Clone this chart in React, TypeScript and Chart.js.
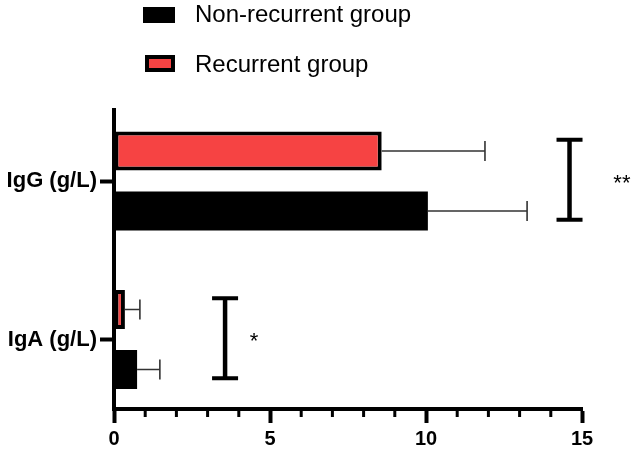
import React, { useEffect, useRef } from 'react';
import { Chart, registerables } from 'chart.js';

Chart.register(...registerables);

// ---- data ----
const categories = ['IgG (g/L)', 'IgA (g/L)'];
const seriesNames = ['Non-recurrent group', 'Recurrent group'];
const nonRecurrentMean = [10.06, 0.74];
const nonRecurrentSD = [3.18, 0.73];
const recurrentMean = [8.58, 0.35];
const recurrentSD = [3.31, 0.48];
const xTickValues = [0, 5, 10, 15];
const significanceLabels = ['**', '*'];
const bracketX = [14.6, 3.56];
const labelX = [16.28, 4.49];

const RED = '#F64343';
const FONT = "Arial, 'Liberation Sans', sans-serif";

const overlay = {
  id: 'overlay',
  afterDatasetsDraw(chart: any) {
    const ctx = chart.ctx;
    const xs = chart.scales.x;
    chart.data.datasets.forEach((ds: any, di: number) => {
      const meta = chart.getDatasetMeta(di);
      meta.data.forEach((bar: any, i: number) => {
        const mean = ds.data[i].x;
        const x0 = xs.getPixelForValue(mean);
        const x1 = xs.getPixelForValue(mean + ds.sd[i]);
        const y = bar.y;
        ctx.save();
        ctx.strokeStyle = '#333';
        ctx.lineWidth = 1.6;
        ctx.beginPath();
        ctx.moveTo(x0, y);
        ctx.lineTo(x1, y);
        ctx.moveTo(x1, y - 10);
        ctx.lineTo(x1, y + 10);
        ctx.stroke();
        ctx.restore();
      });
    });
  },
  afterDraw(chart: any) {
    const ctx = chart.ctx;
    const xs = chart.scales.x;
    const ys = chart.scales.y;
    const area = chart.chartArea;
    ctx.save();
    // minor ticks
    ctx.strokeStyle = '#000';
    ctx.lineWidth = 3;
    for (let v = Math.ceil(xs.min); v <= xs.max; v++) {
      if (xTickValues.includes(v)) continue;
      const px = xs.getPixelForValue(v);
      ctx.beginPath();
      ctx.moveTo(px, area.bottom);
      ctx.lineTo(px, area.bottom + 8);
      ctx.stroke();
    }
    // significance brackets
    categories.forEach((_, i) => {
      const bx = xs.getPixelForValue(bracketX[i]);
      const yTop = ys.getPixelForValue(i - 0.26);
      const yBot = ys.getPixelForValue(i + 0.245);
      ctx.strokeStyle = '#000';
      ctx.lineWidth = 4.5;
      ctx.beginPath();
      ctx.moveTo(bx, yTop);
      ctx.lineTo(bx, yBot);
      ctx.stroke();
      ctx.lineWidth = 4;
      ctx.beginPath();
      ctx.moveTo(bx - 13, yTop);
      ctx.lineTo(bx + 13, yTop);
      ctx.moveTo(bx - 13, yBot);
      ctx.lineTo(bx + 13, yBot);
      ctx.stroke();
      const lx = xs.getPixelForValue(labelX[i]);
      const cy = ys.getPixelForValue(i) - 4;
      ctx.fillStyle = '#000';
      ctx.font = `22px ${FONT}`;
      ctx.textAlign = 'center';
      ctx.textBaseline = 'alphabetic';
      ctx.fillText(significanceLabels[i], lx, cy + 12.8);
    });
    // legend
    ctx.textAlign = 'left';
    ctx.textBaseline = 'alphabetic';
    ctx.font = `24px ${FONT}`;
    ctx.fillStyle = '#000';
    ctx.fillRect(143, 7, 32, 16);
    ctx.fillText(seriesNames[0], 195, 22);
    ctx.fillStyle = '#000';
    ctx.fillRect(145, 55, 30, 17);
    ctx.fillStyle = RED;
    ctx.fillRect(149, 59, 22, 9);
    ctx.fillStyle = '#000';
    ctx.fillText(seriesNames[1], 195, 71.5);
    ctx.restore();
  },
};

export default function App() {
  const canvasRef = useRef<HTMLCanvasElement | null>(null);

  useEffect(() => {
    const canvas = canvasRef.current;
    if (!canvas) return;
    const common = {
      categoryPercentage: 0.757,
      barPercentage: 0.65,
      borderSkipped: false,
    };
    const chart = new Chart(canvas, {
      type: 'bar',
      data: {
        datasets: [
          {
            ...common,
            label: seriesNames[1],
            data: recurrentMean.map((v, i) => ({ x: v, y: i })),
            sd: recurrentSD,
            backgroundColor: RED,
            borderColor: '#000',
            borderWidth: 4,
          } as any,
          {
            ...common,
            label: seriesNames[0],
            data: nonRecurrentMean.map((v, i) => ({ x: v, y: i })),
            sd: nonRecurrentSD,
            backgroundColor: '#000',
            borderColor: '#000',
            borderWidth: 0,
          } as any,
        ],
      },
      options: {
        indexAxis: 'y',
        responsive: false,
        maintainAspectRatio: false,
        animation: false,
        layout: { padding: { left: 0, top: 110, right: 53, bottom: 0 } },
        plugins: {
          legend: { display: false },
          tooltip: { enabled: false },
        },
        scales: {
          x: {
            type: 'linear',
            position: 'bottom',
            min: 0,
            max: 15,
            offset: false,
            afterFit: (s: any) => {
              s.height = 44;
            },
            afterBuildTicks: (s: any) => {
              s.ticks = xTickValues.map((v) => ({ value: v }));
            },
            grid: {
              offset: false,
              drawOnChartArea: false,
              drawTicks: true,
              tickLength: 14,
              tickWidth: 4,
              tickColor: '#000',
            },
            border: { display: true, color: '#000', width: 4 },
            ticks: {
              color: '#000',
              padding: 4,
              maxRotation: 0,
              font: { family: FONT, size: 20, weight: 'bold' },
            },
          },
          y: {
            type: 'linear',
            reverse: true,
            min: -0.448,
            max: 1.4385,
            offset: false,
            afterFit: (s: any) => {
              s.width = 114;
            },
            afterBuildTicks: (s: any) => {
              s.ticks = categories.map((_, i) => ({ value: i }));
            },
            grid: {
              offset: false,
              drawOnChartArea: false,
              drawTicks: true,
              tickLength: 14,
              tickWidth: 4,
              tickColor: '#000',
            },
            border: { display: true, color: '#000', width: 4 },
            ticks: {
              color: '#000',
              padding: 3,
              font: { family: FONT, size: 22, weight: 'bold' },
              callback: (v: any) => categories[v] ?? '',
            },
          },
        },
      } as any,
      plugins: [overlay],
    });
    return () => chart.destroy();
  }, []);

  return (
    <div style={{ position: 'absolute', left: 0, top: 0, width: 635, height: 453, background: '#fff' }}>
      <canvas ref={canvasRef} width={635} height={453} style={{ display: 'block' }} />
    </div>
  );
}
